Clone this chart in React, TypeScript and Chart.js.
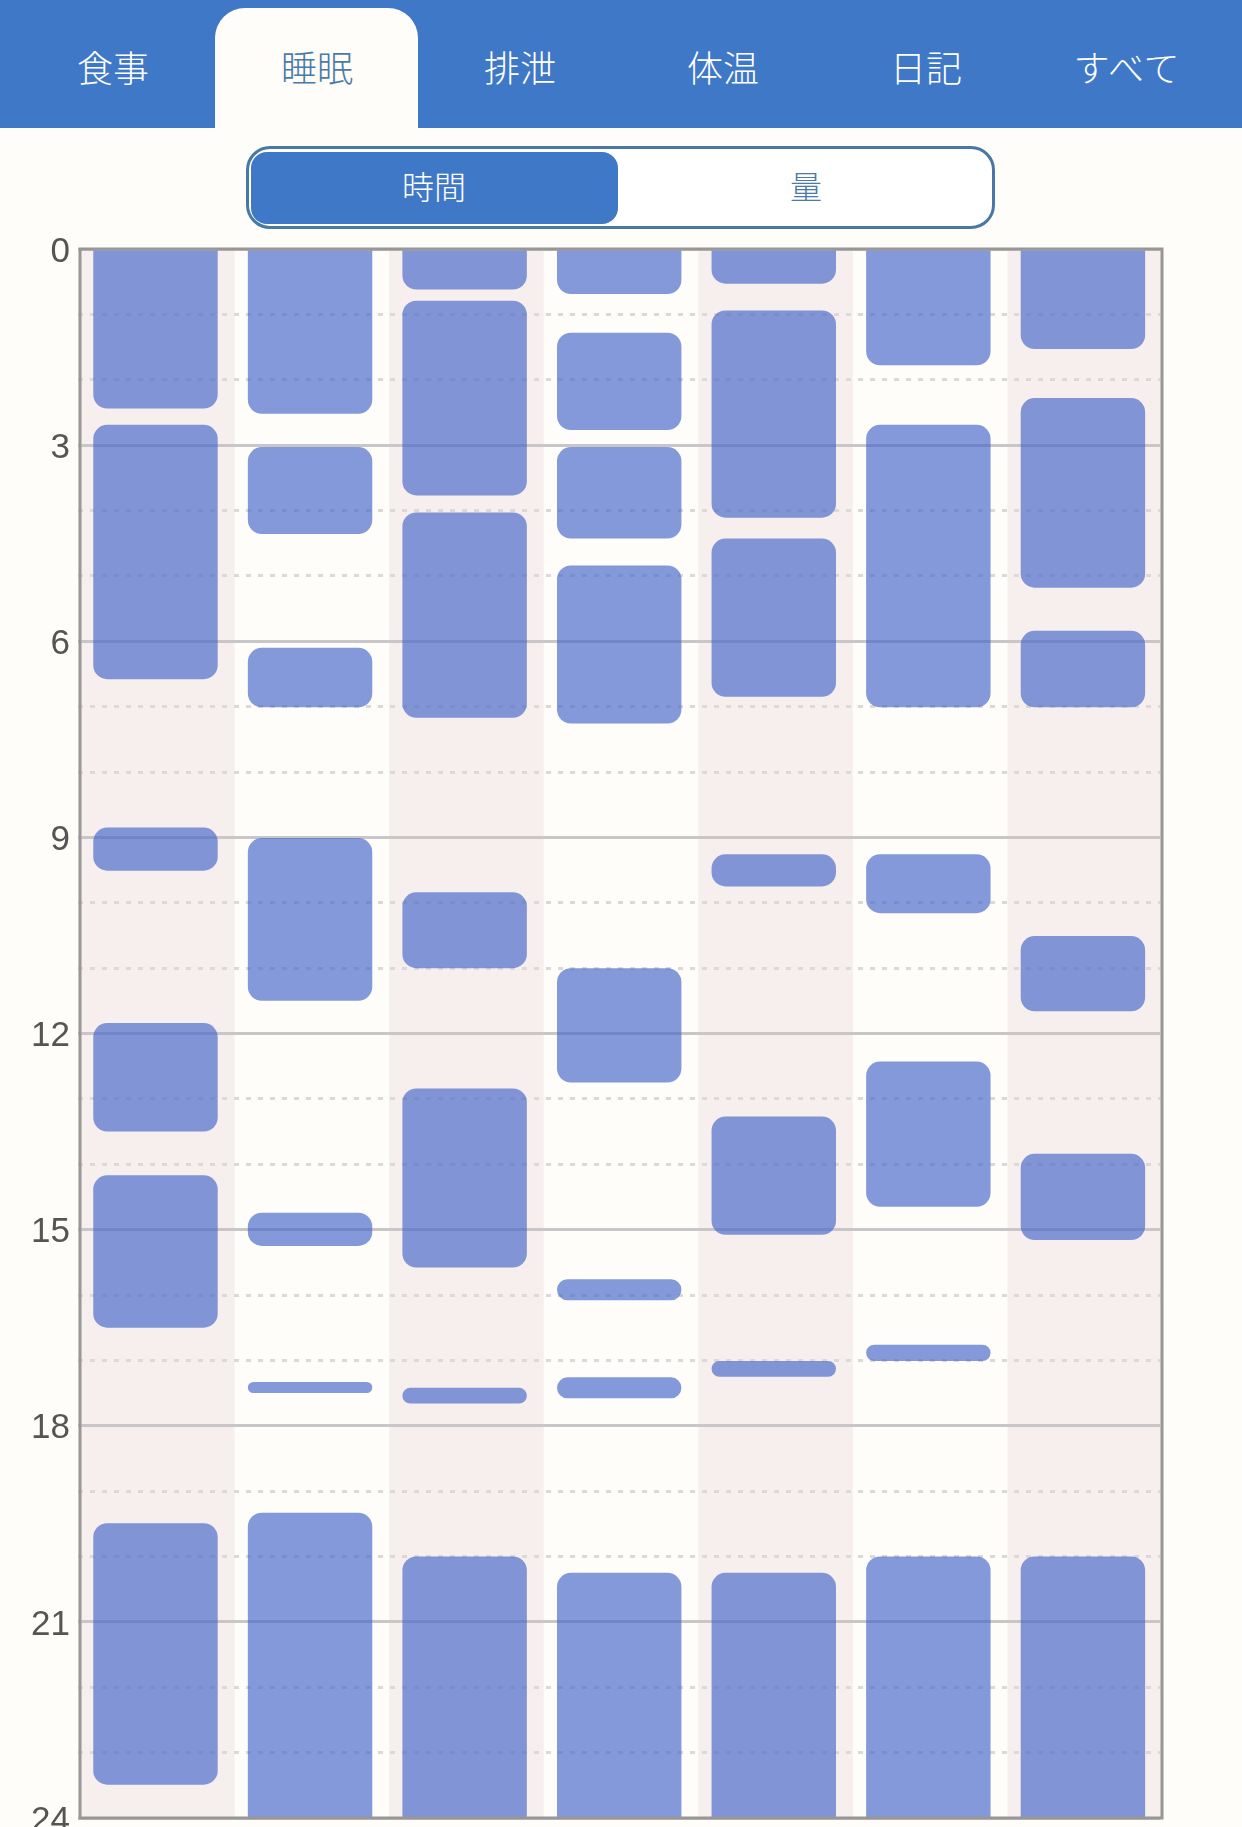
import { useEffect, useRef } from "react"
import { Chart, registerables } from "chart.js"

Chart.register(...registerables)

const tabs = ["食事", "睡眠", "排泄", "体温", "日記", "すべて"]
const tabCenters = [113, 317, 520, 723, 926, 1127]
const days = ["d1", "d2", "d3", "d4", "d5", "d6", "d7"]
const hourLabels = [0, 3, 6, 9, 12, 15, 18, 21, 24]

// sleep spans per day, [start hour, end hour]
const day1 = [[0, 2.44], [2.69, 6.58], [8.85, 9.51], [11.84, 13.5], [14.17, 16.5], [19.49, 23.49]]
const day2 = [[0, 2.52], [3.03, 4.36], [6.1, 7.01], [9.01, 11.5], [14.74, 15.25], [17.33, 17.5], [19.33, 24]]
const day3 = [[0, 0.62], [0.79, 3.77], [4.03, 7.17], [9.84, 11], [12.84, 15.58], [17.42, 17.66], [20, 24]]
const day4 = [[0, 0.69], [1.28, 2.77], [3.03, 4.43], [4.84, 7.26], [11, 12.75], [15.76, 16.08], [17.26, 17.58], [20.25, 24]]
const day5 = [[0, 0.53], [0.94, 4.11], [4.43, 6.85], [9.26, 9.75], [13.27, 15.08], [17.01, 17.25], [20.25, 24]]
const day6 = [[0, 1.78], [2.69, 7.01], [9.26, 10.16], [12.43, 14.65], [16.76, 17.01], [20, 24]]
const day7 = [[0, 1.53], [2.28, 5.18], [5.84, 7.01], [10.51, 11.66], [13.84, 15.16], [20, 24]]
const sleep = [day1, day2, day3, day4, day5, day6, day7]

const BLUE = "#3f78c6"
const PAPER = "#fefdf9"
const FONT = '"Noto Sans CJK JP", sans-serif'
// the bars sit a little left of the middle of their stripes in the original
const NUDGE = 1.8

// pink stripes behind every other day, frame on top of the bars, hour labels
const frame = {
  id: "frame",
  beforeDraw(chart: any) {
    const { ctx, chartArea } = chart
    const w = (chartArea.right - chartArea.left) / days.length
    ctx.save()
    ctx.fillStyle = "#f7eeee"
    days.forEach((_, i) => {
      if (i % 2 === 0) {
        ctx.fillRect(chartArea.left + NUDGE + i * w, chartArea.top, w, chartArea.bottom - chartArea.top)
      }
    })
    ctx.restore()
  },
  afterDatasetsDraw(chart: any) {
    const { ctx, chartArea, scales } = chart
    ctx.save()
    ctx.strokeStyle = "#989696"
    ctx.lineWidth = 3
    ctx.strokeRect(chartArea.left + NUDGE, chartArea.top, chartArea.right - chartArea.left, chartArea.bottom - chartArea.top)
    ctx.fillStyle = "#555555"
    ctx.font = '35px "Liberation Sans", sans-serif'
    ctx.textAlign = "right"
    ctx.textBaseline = "middle"
    hourLabels.forEach((h) => {
      ctx.fillText(String(h), 70, scales.y.getPixelForValue(h) + 3)
    })
    ctx.restore()
  },
}

function SleepChart() {
  const chartRef = useRef<HTMLCanvasElement>(null)

  useEffect(() => {
    if (!chartRef.current) return
    const slots = Math.max(...sleep.map((d) => d.length))
    const datasets = Array.from({ length: slots }, (_, s) => ({
      data: sleep.map((d) => d[s] ?? null),
      backgroundColor: "rgba(66, 100, 200, 0.65)",
      borderSkipped: false,
      borderRadius: (c: any) => {
        const v = c.raw
        const top = v && v[0] === 0 ? 0 : 14
        const bottom = v && v[1] === 24 ? 0 : 14
        return { topLeft: top, topRight: top, bottomLeft: bottom, bottomRight: bottom }
      },
      categoryPercentage: 1,
      barPercentage: 0.805,
      grouped: false,
    }))

    const chart = new Chart(chartRef.current, {
      type: "bar",
      data: { labels: days, datasets: datasets as any },
      plugins: [frame],
      options: {
        animation: false,
        responsive: false,
        events: [],
        layout: { padding: { top: 59, bottom: 9, right: 80 + NUDGE, left: 0 } },
        plugins: { legend: { display: false }, tooltip: { enabled: false } },
        scales: {
          x: { display: false },
          y: {
            min: 0,
            max: 24,
            reverse: true,
            afterFit: (scale: any) => {
              scale.width = 80 - NUDGE
              scale.paddingTop = 0
              scale.paddingBottom = 0
            },
            ticks: {
              stepSize: 1,
              autoSkip: false,
              callback: () => "",
            },
            grid: {
              drawTicks: false,
              color: (c: any) => (c.tick.value % 3 === 0 ? "#c9c6ca" : "#dcd9d8"),
              lineWidth: 3,
            },
            border: {
              display: false,
              dash: (c: any) => (c.tick && c.tick.value % 3 === 0 ? [] : [5, 7]),
            },
          },
        },
      },
    })

    return () => chart.destroy()
  }, [])

  return (
    <canvas
      ref={chartRef}
      width={1242}
      height={1637}
      style={{ position: "absolute", left: 0, top: 190 }}
    />
  )
}

export default function App() {
  const label = (text: string, x: number, y: number, size: number, color: string, spacing = 0) => (
    <div
      key={text}
      style={{
        position: "absolute",
        left: x - 120,
        width: 240,
        top: y - 40,
        height: 80,
        lineHeight: "80px",
        textAlign: "center",
        fontSize: size,
        fontFamily: FONT,
        fontWeight: 300,
        letterSpacing: spacing,
        color,
      }}
    >
      {text}
    </div>
  )

  return (
    <div
      style={{
        position: "absolute",
        left: 0,
        top: 0,
        width: 1242,
        height: 1827,
        overflow: "hidden",
        background: PAPER,
      }}
    >
      <div style={{ position: "absolute", left: 0, top: 0, width: 1242, height: 128, background: BLUE }} />
      <div
        style={{
          position: "absolute",
          left: 215,
          top: 8,
          width: 203,
          height: 120,
          background: PAPER,
          borderRadius: "30px 30px 0 0",
        }}
      />
      {tabs.map((t, i) =>
        label(t, tabCenters[i], 66, 36, i === 1 ? "#4a7ba8" : "#ffffff", t.length > 2 ? 1 : 0)
      )}

      <div
        style={{
          position: "absolute",
          left: 246,
          top: 146,
          width: 749,
          height: 83,
          boxSizing: "border-box",
          border: "3px solid #4a78a4",
          borderRadius: 24,
          background: "#ffffff",
        }}
      />
      <div
        style={{
          position: "absolute",
          left: 251,
          top: 152,
          width: 367,
          height: 72,
          background: BLUE,
          borderRadius: 16,
        }}
      />
      {label("時間", 434, 185, 32, "#ffffff")}
      {label("量", 806, 185, 32, "#4a7ba8")}

      <SleepChart />
    </div>
  )
}
